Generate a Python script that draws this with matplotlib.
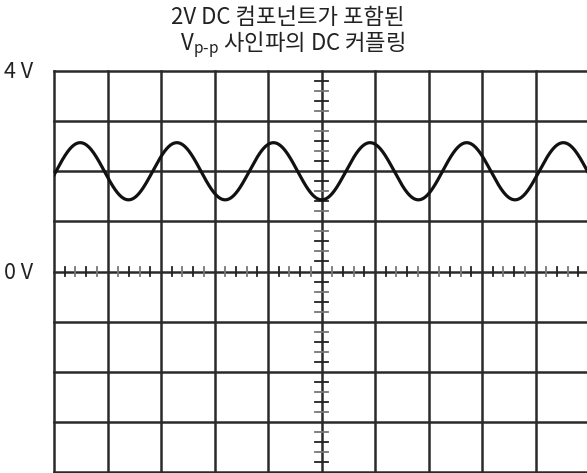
import matplotlib
matplotlib.use("Agg")
import matplotlib.pyplot as plt
import numpy as np

plt.rcParams["font.family"] = ["Noto Sans CJK KR", "DejaVu Sans"]
plt.rcParams["font.weight"] = "light"
plt.rcParams["mathtext.fontset"] = "custom"
plt.rcParams["mathtext.rm"] = "Noto Sans CJK KR:light"

# screen: 10 x 8 divisions, 1 V/div
x_divs = 10
y_divs = 8
dc_offset = 2.0      # V
amplitude = 0.57     # V
period = 1.806       # div
first_peak = 0.49    # div
title_lines = ["2V DC 컴포넌트가 포함된", r"$\mathregular{V_{p\text{-}p}}$ 사인파의 DC 커플링"]
volt_labels = ["4 V", "0 V"]

fig = plt.figure(figsize=(5.87, 4.73), dpi=100)
ax = fig.add_axes([54 / 587, 1 / 473, 535 / 587, 401 / 473])
ax.set_xlim(0, x_divs)
ax.set_ylim(-4, 4)
ax.axis("off")

grid_c = "#2a2a2a"
for gx in range(x_divs + 1):
    ax.plot([gx, gx], [-4, 4], color=grid_c, lw=1.8, zorder=1, clip_on=False)
for gy in range(-4, 5):
    ax.plot([0, x_divs], [gy, gy], color=grid_c, lw=1.8, zorder=1, clip_on=False)

# minor ticks on the centre graticule lines
for i, t in enumerate(np.arange(0, x_divs + 0.01, 0.2)):
    if abs(t - round(t)) < 1e-6:
        continue
    c = "#222222" if i % 2 else "#777777"
    ax.plot([t, t], [-0.09, 0.09], color=c, lw=1.3, zorder=1)
for i, t in enumerate(np.arange(-4, 4.01, 0.2)):
    if abs(t - round(t)) < 1e-6:
        continue
    c = "#222222" if i % 2 else "#777777"
    ax.plot([5 - 0.12, 5 + 0.12], [t, t], color=c, lw=1.3, zorder=1)

xs = np.linspace(0, x_divs, 1500)
ys = dc_offset + amplitude * np.cos(2 * np.pi * (xs - first_peak) / period)
ax.plot(xs, ys, color="#111111", lw=2.3, zorder=3)

fig.text(288 / 587, 1 - 17 / 473, title_lines[0], ha="center", va="center",
         fontsize=16, color="#222222")
fig.text(293 / 587, 1 - 45 / 473, title_lines[1], ha="center", va="center",
         fontsize=16, color="#222222")
fig.text(4 / 587, 1 - 72 / 473, volt_labels[0], ha="left", va="center",
         fontsize=15.5, color="#222222")
fig.text(4 / 587, 1 - 273 / 473, volt_labels[1], ha="left", va="center",
         fontsize=15.5, color="#222222")

fig.savefig("out.png", dpi=100)
